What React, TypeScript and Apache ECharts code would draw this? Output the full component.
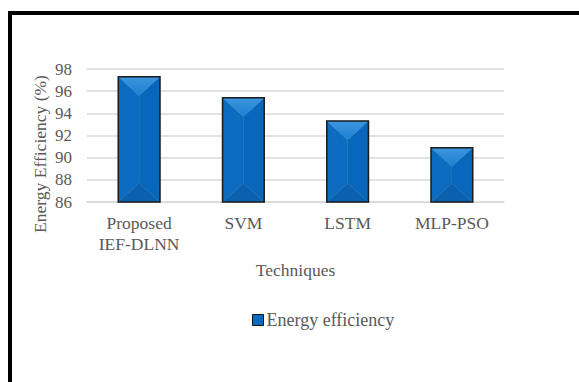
import React, { useEffect, useRef } from "react";
import * as echarts from "echarts";

const techniques = ["Proposed\nIEF-DLNN", "SVM", "LSTM", "MLP-PSO"];
const efficiency = [97.3, 95.4, 93.3, 90.9];
const yTicks = [86, 88, 90, 92, 94, 96, 98];
const seriesName = "Energy efficiency";
const xTitle = "Techniques";
const yTitle = "Energy Efficiency (%)";

const FONT = "Liberation Serif";
const TEXT = "#595959";

export default function App() {
  const ref = useRef<HTMLDivElement>(null);

  useEffect(() => {
    if (!ref.current) return;
    const chart = echarts.init(ref.current, undefined, { renderer: "svg" });
    const yMin = yTicks[0];
    const yMax = yTicks[yTicks.length - 1];

    const facet = (points: number[][], fill: any) => ({
      type: "polygon",
      shape: { points },
      style: { fill, stroke: typeof fill === "string" ? fill : "#1a7bcc", lineWidth: 0.4 },
    });

    // Beveled bar: flat body plus four facets meeting along the centre line
    const renderBar = (params: any, api: any) => {
      const idx = api.value(0);
      const val = api.value(1);
      const top = api.coord([idx, val]);
      const base = api.coord([idx, yMin]);
      const w = api.size([1, 0])[0] * 0.4;
      const x0 = top[0] - w / 2;
      const x1 = top[0] + w / 2;
      const xc = top[0];
      const y0 = top[1];
      const y1 = base[1];
      const d = Math.min(w * 0.45, (y1 - y0) / 2);
      return {
        type: "group",
        children: [
          facet([[x0, y0], [xc, y0 + d], [xc, y1 - d], [x0, y1]], "#0b6cc0"),
          facet([[x1, y0], [xc, y0 + d], [xc, y1 - d], [x1, y1]], "#0867ba"),
          facet(
            [[x0, y0], [x1, y0], [xc, y0 + d]],
            new echarts.graphic.LinearGradient(0, 0, 0, 1, [
              { offset: 0, color: "#3d95de" },
              { offset: 1, color: "#1f80cf" },
            ])
          ),
          facet([[x0, y1], [x1, y1], [xc, y1 - d]], "#0a61ae"),
          {
            type: "rect",
            shape: { x: x0, y: y0, width: w, height: y1 - y0 },
            style: { fill: "none", stroke: "#1c1c1c", lineWidth: 1.5 },
          },
        ],
      };
    };

    chart.setOption({
      animation: false,
      backgroundColor: "#ffffff",
      textStyle: { fontFamily: FONT },
      grid: { left: 87, right: 75, top: 69, bottom: 180 },
      legend: {
        data: [seriesName],
        left: 247,
        top: 306,
        icon: "rect",
        itemWidth: 11,
        itemHeight: 11,
        itemStyle: { color: "#0b6cbf", borderColor: "#111111", borderWidth: 1 },
        textStyle: { fontFamily: FONT, fontSize: 18, color: TEXT, padding: [0, 0, 0, -2] },
      },
      xAxis: {
        type: "category",
        data: techniques,
        name: xTitle,
        nameLocation: "middle",
        nameGap: 57,
        nameTextStyle: { fontFamily: FONT, fontSize: 17.5, color: TEXT, lineHeight: 21 },
        axisLine: { lineStyle: { color: "#d9d9d9", width: 1.5 } },
        axisTick: { show: false },
        axisLabel: {
          fontFamily: FONT,
          fontSize: 17.5,
          color: TEXT,
          lineHeight: 21,
          margin: 10,
          interval: 0,
        },
      },
      yAxis: {
        type: "value",
        min: yMin,
        max: yMax,
        interval: 2,
        axisLine: { show: false },
        axisTick: { show: false },
        axisLabel: { fontFamily: FONT, fontSize: 17, color: TEXT, margin: 15 },
        splitLine: { lineStyle: { color: "#d9d9d9", width: 1.5 } },
      },
      graphic: [
        {
          type: "text",
          x: 40,
          y: 154,
          rotation: Math.PI / 2,
          style: {
            text: yTitle,
            fontFamily: FONT,
            fontSize: 17.5,
            fill: TEXT,
            align: "center",
            verticalAlign: "middle",
          },
        },
        {
          type: "rect",
          shape: { x: 10, y: 13, width: 800, height: 600 },
          style: { fill: "none", stroke: "#000000", lineWidth: 4 },
          silent: true,
        },
      ],
      series: [
        {
          name: seriesName,
          type: "custom",
          renderItem: renderBar,
          encode: { x: 0, y: 1 },
          itemStyle: { color: "#0b6cbf", borderColor: "#111111", borderWidth: 1 },
          data: efficiency.map((v, i) => [i, v]),
        },
      ],
    });

    return () => chart.dispose();
  }, []);

  return (
    <div
      ref={ref}
      style={{ position: "fixed", left: 0, top: 0, width: 579, height: 382 }}
    />
  );
}
